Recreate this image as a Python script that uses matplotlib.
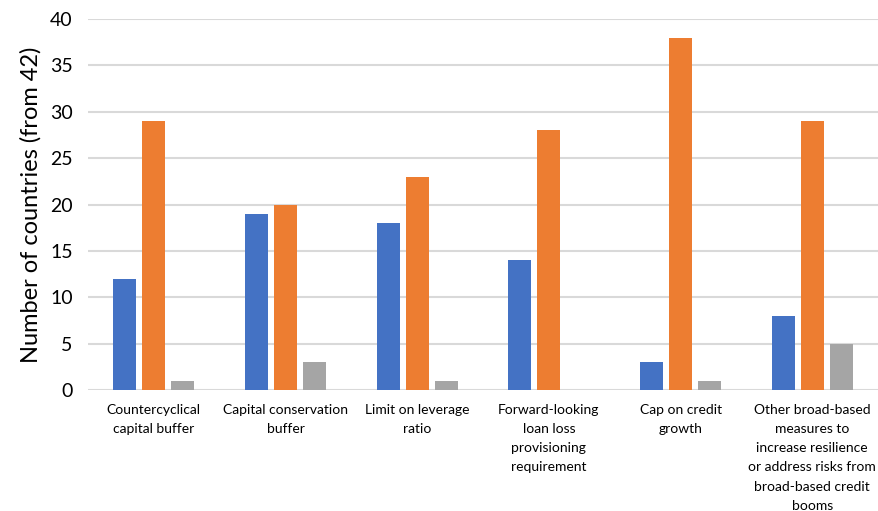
import matplotlib.pyplot as plt
import numpy as np

plt.rcParams['font.family'] = ['Lato', 'DejaVu Sans']

categories = [
    "Countercyclical\ncapital buffer",
    "Capital conservation\nbuffer",
    "Limit on leverage\nratio",
    "Forward-looking\nloan loss\nprovisioning\nrequirement",
    "Cap on credit\ngrowth",
    "Other broad-based\nmeasures to\nincrease resilience\nor address risks from\nbroad-based credit\nbooms",
]
series_blue = [12, 19, 18, 14, 3, 8]
series_orange = [29, 20, 23, 28, 38, 29]
series_gray = [1, 3, 1, 0, 1, 5]

colors = ["#4472C4", "#ED7D31", "#A5A5A5"]

fig = plt.figure(figsize=(8.79, 5.11), dpi=100)
ax = fig.add_axes([0.1001, 0.2368, 0.8989, 0.726])

x = np.arange(len(categories))
w = 0.175
step = 0.22
for i, (vals, c) in enumerate(zip([series_blue, series_orange, series_gray], colors)):
    ax.bar(x + (i - 1) * step, vals, w, color=c, zorder=3)

ax.set_xlim(-0.5, len(categories) - 0.5)
ax.set_ylim(0, 40)
ax.set_yticks(range(0, 41, 5))
ax.yaxis.grid(True, color="#D9D9D9", linewidth=1.5, zorder=0)
for s in ["top", "right", "left", "bottom"]:
    ax.spines[s].set_visible(False)
ax.tick_params(axis="y", length=0, labelsize=14, pad=11, colors="black")
ax.tick_params(axis="x", length=0, pad=10)
ax.set_xticks(x)
ax.set_xticklabels(categories, fontsize=10, linespacing=1.72)
ax.set_ylabel("Number of countries (from 42)", fontsize=17, labelpad=6)

fig.savefig("out.png", dpi=100)
